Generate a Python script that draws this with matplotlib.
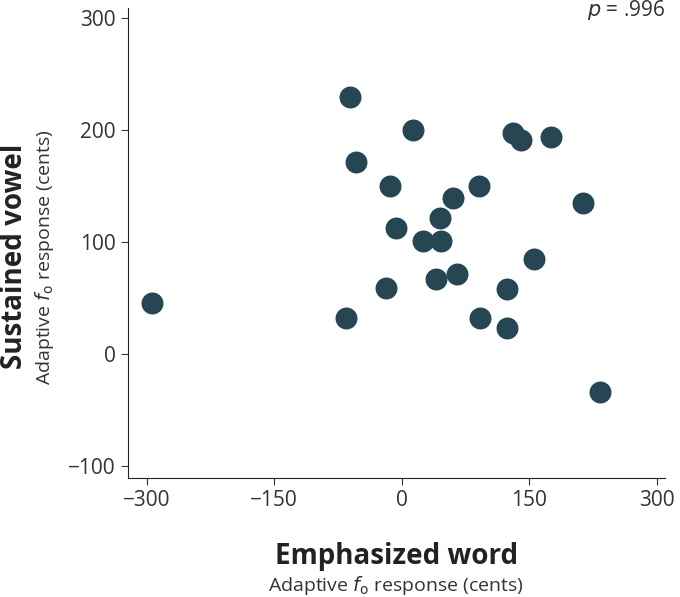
import matplotlib
matplotlib.use("Agg")
import matplotlib.pyplot as plt

emphasized = [-293, -61, -54, -65, 14, -13, -6, -18, 25, 46, 45, 60, 40, 65, 91, 92, 124, 124, 131, 141, 156, 176, 213, 233]
sustained = [45, 229, 171, 32, 200, 150, 112, 59, 101, 101, 121, 139, 67, 71, 150, 32, 58, 23, 197, 191, 85, 194, 135, -34]
xticks = [-300, -150, 0, 150, 300]
yticks = [-100, 0, 100, 200, 300]

plt.rcParams['font.family'] = ['Open Sans', 'DejaVu Sans']
fig = plt.figure(figsize=(6.8, 5.97), dpi=100)
ax = fig.add_axes([0.188, 0.199, 0.79, 0.788])
ax.scatter(emphasized, sustained, s=250, color='#264653', zorder=3, linewidths=0)
ax.set_xlim(-322, 310)
ax.set_ylim(-111, 309)
ax.set_xticks(xticks)
ax.set_yticks(yticks)
ax.tick_params(labelsize=15, colors='#333333', length=5)
for s in ['top', 'right']:
    ax.spines[s].set_visible(False)
for s in ['left', 'bottom']:
    ax.spines[s].set_color('#222222')
ax.text(1.0, 1.02, r'$p$ = .996', transform=ax.transAxes, ha='right', va='top', fontsize=15, color='#333333')
fig.text(0.583, 0.055, 'Emphasized word', ha='center', fontsize=20, fontweight='bold', color='#222222')
fig.text(0.583, 0.01, r'Adaptive $f_\mathrm{o}$ response (cents)', ha='center', fontsize=14, color='#333333')
fig.text(0.0, 0.57, 'Sustained vowel', va='center', rotation=90, fontsize=20, fontweight='bold', color='#222222')
fig.text(0.048, 0.57, r'Adaptive $f_\mathrm{o}$ response (cents)', va='center', rotation=90, fontsize=14, color='#333333')
fig.savefig('out.png', dpi=100)
